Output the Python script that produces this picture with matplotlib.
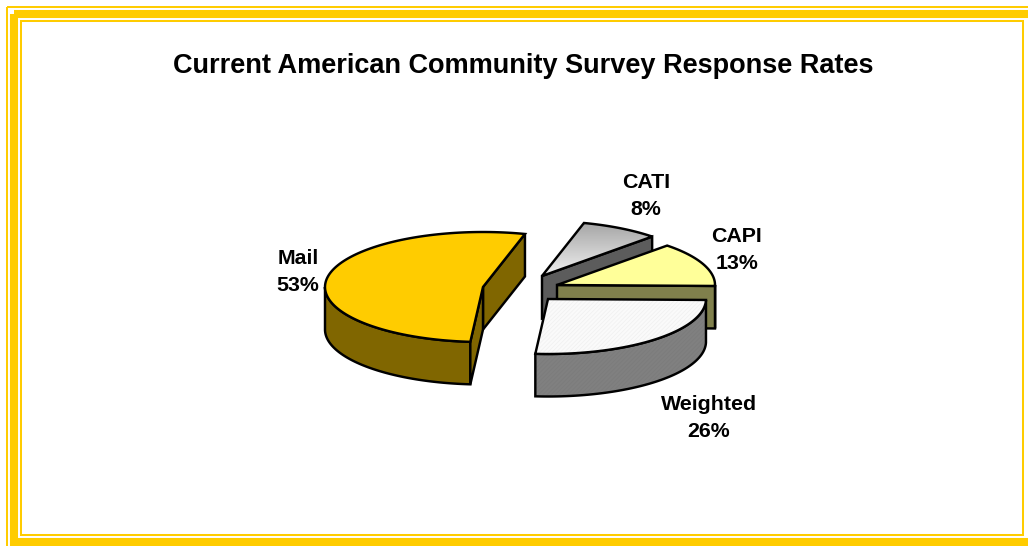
import numpy as np
from matplotlib import pyplot as plt
from matplotlib.colors import LinearSegmentedColormap
from matplotlib.patches import Polygon, Rectangle

plt.rcParams['font.family'] = ['Liberation Sans', 'DejaVu Sans']
plt.rcParams['hatch.linewidth'] = 0.5

title = "Current American Community Survey Response Rates"
labels = ["Mail", "CATI", "CAPI", "Weighted"]
shares = [53, 8, 13, 26]

# pie layout, in pixels
start_angle = 74.6
radius_x = 158
radius_y = 55
depth = 42.5
centers = [(483, 287), (542, 276), (557, 285), (548, 299)]
label_pos = [(298, 272), (646, 196), (737, 250), (709, 418)]

top_colors = ["#FFCC00", "#CCCCCC", "#FFFF99", "#FAFAFA"]
side_colors = ["#806600", "#5C5C5C", "#80804C", "#808080"]

YELLOW = "#FFCC00"
EDGE = 1.75


def arc(center, a0, a1):
    t = np.radians(np.linspace(a0, a1, 120))
    return np.column_stack([center[0] + radius_x * np.cos(t),
                            center[1] - radius_y * np.sin(t)])


def wall(points):
    # extrude a run of top-face points straight down
    low = points[::-1] + [0, depth]
    return np.vstack([points, low])


def add_poly(ax, pts, color, hatch=None, hatch_color=None, z=2):
    if hatch:
        ax.add_patch(Polygon(pts, closed=True, facecolor=color, edgecolor=hatch_color,
                             hatch=hatch, lw=0, zorder=z))
        color = "none"
    p = Polygon(pts, closed=True, facecolor=color, edgecolor="black", lw=EDGE,
                joinstyle="miter", zorder=z)
    ax.add_patch(p)
    return p


fig = plt.figure(figsize=(10.28, 5.46), dpi=100)
ax = fig.add_axes([0, 0, 1, 1])
ax.axis("off")

# frame: thin outer line, thick band, thin inner line
ax.add_patch(Rectangle((7, 7), 1040, 1040, fill=False, ec=YELLOW, lw=1.45, zorder=1))
ax.add_patch(Rectangle((14, 14), 1040, 528, fill=False, ec=YELLOW, lw=5.8, zorder=1))
ax.add_patch(Rectangle((21, 21), 1002, 514, fill=False, ec=YELLOW, lw=1.45, zorder=1))

fig.text(523 / 1028, 1 - 66 / 546, title, ha="center", va="center",
         fontsize=19.5, fontweight="bold")

# Mail runs counter-clockwise from the start angle, the others clockwise after it
spans = [(start_angle, start_angle + shares[0] * 3.6)]
a = start_angle
for s in shares[1:]:
    spans.append((a, a - s * 3.6))
    a -= s * 3.6

z = 2
for i, (a0, a1) in enumerate(spans):
    c = np.array(centers[i], dtype=float)
    top = np.vstack([c, arc(c, a0, a1)])
    hatch = "/" * 8 if labels[i] == "Weighted" else None

    # outer side wall where the rim faces the viewer
    lo, hi = min(a0, a1), max(a0, a1)
    v0, v1 = max(lo, 180), min(hi, 360)
    if lo < 0:
        v0, v1 = lo, min(hi, 0)
    if v1 > v0:
        add_poly(ax, wall(arc(c, v0, v1)), side_colors[i],
                 hatch, "#7B7B7B" if hatch else None, z)

    # cut faces that can be seen from the front
    for ang in (a0, a1):
        line = np.vstack([c, arc(c, ang, ang)[[0]]])
        if labels[i] == "Mail" or (labels[i] != "Weighted" and ang == a1):
            add_poly(ax, wall(line), side_colors[i], None, None, z)

    if labels[i] == "CATI":
        # grey top fades from dark at the rim to light at the point
        poly = add_poly(ax, top, "none", None, None, z + 0.5)
        grad = np.linspace(0, 1, 64).reshape(-1, 1)
        cmap = LinearSegmentedColormap.from_list("cati", ["#A4A4A4", "#F0F0F0"])
        im = ax.imshow(grad, cmap=cmap, aspect="auto", zorder=z + 0.2,
                       extent=(c[0], c[0] + radius_x, c[1], c[1] - radius_y))
        im.set_clip_path(poly)
    else:
        add_poly(ax, top, top_colors[i], hatch, "#F0F0F0" if hatch else None, z + 0.5)
    z += 1

ax.set_xlim(0, 1028)
ax.set_ylim(546, 0)

for name, share, (x, y) in zip(labels, shares, label_pos):
    ax.text(x, y, "%s\n%d%%" % (name, share), ha="center", va="center", fontsize=15.4,
            fontweight="bold", linespacing=1.5, zorder=10)

fig.savefig("out.png", dpi=100)
